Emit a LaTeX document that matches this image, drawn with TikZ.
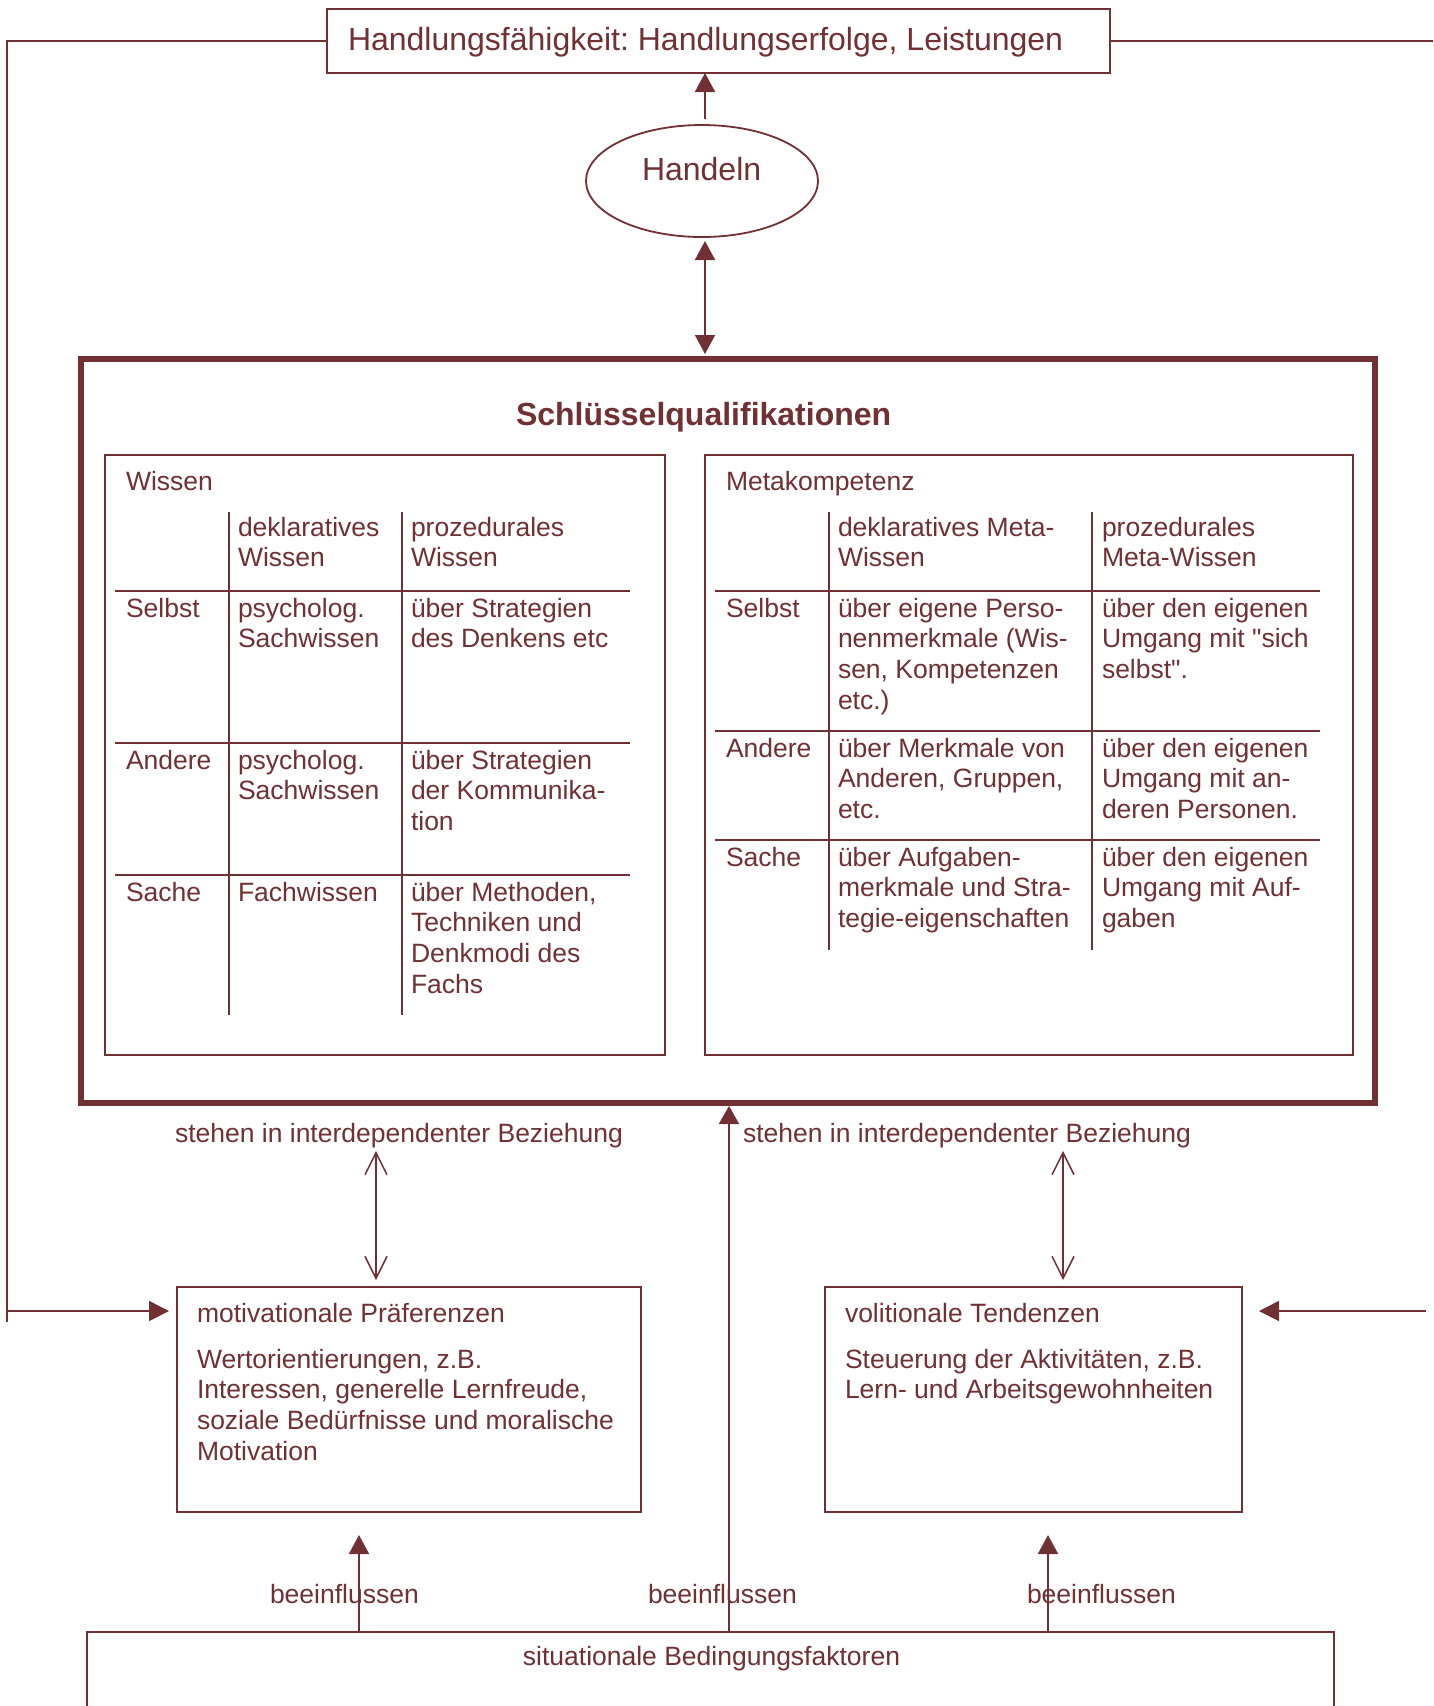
\documentclass[tikz,border=0pt]{standalone}
\usepackage{fontspec}
\setmainfont{Liberation Sans}[Ligatures=TeXOff]
\usetikzlibrary{arrows.meta,shapes.geometric}
\definecolor{wine}{RGB}{112,48,52}
\newcommand{\ml}[1]{\begin{tabular}[t]{@{}l@{}}#1\end{tabular}}
\newcommand{\bodyfont}{\fontsize{26.5}{30.8}\selectfont}
\newcommand{\bigfont}{\fontsize{32}{37}\selectfont}
\frenchspacing
\tikzset{
  every node/.style={text=wine, inner sep=0pt, outer sep=0pt, font=\bodyfont},
  cell/.style={anchor=base west},
  frame/.style 2 args={draw=wine, line width=2pt, minimum width=#1, minimum height=#2, anchor=north west},
  rule/.style={draw=wine, line width=2pt},
  conn/.style={draw=wine, line width=1.8pt},
  filltip/.style={-{Triangle[length=19pt,width=20pt]}},
  bothtip/.style={{Triangle[length=19pt,width=20pt]}-{Triangle[length=19pt,width=20pt]}},
  opentip/.style={{Straight Barb[length=22pt,width=22pt]}-{Straight Barb[length=22pt,width=22pt]}},
}
\begin{document}
\begin{tikzpicture}[x=1pt,y=-1pt]
\useasboundingbox[fill=white] (0,0) rectangle (1433,1706);
\clip (0,0) rectangle (1433,1706);

% main boxes
\node[frame={783}{64}] (top) at (327,9) {};
\node[cell, font=\bigfont] (toptxt) at (348,50) {Handlungsfähigkeit: Handlungserfolge, Leistungen};
\node[draw=wine, line width=1.8pt, ellipse, minimum width=232, minimum height=112] (handeln) at (702,181) {};
\node[cell, font=\bigfont] (handelntxt) at (642,180) {Handeln};
\node[frame={1294}{744}, line width=6pt] (big) at (81,359) {};
\node[cell, font=\bigfont\bfseries] (title) at (516,425) {Schlüsselqualifikationen};
\node[frame={560}{600}] (wiss) at (105,455) {};
\node[frame={648}{600}] (meta) at (705,455) {};
\node[frame={464}{225}] (motiv) at (177,1287) {};
\node[frame={417}{225}] (volit) at (825,1287) {};
\node[frame={1247}{120}] (situ) at (87,1632) {};
\node[anchor=base] (situtxt) at (711.5,1665) {situationale Bedingungsfaktoren};

% Wissen table
\draw[rule] (229,512) -- (229,1015);
\draw[rule] (402,512) -- (402,1015);
\draw[rule] (115,591) -- (630,591);
\draw[rule] (115,743) -- (630,743);
\draw[rule] (115,875) -- (630,875);
\node[cell] (wl) at (126,490) {Wissen};
\node[cell] (wh2) at (238,536) {\ml{deklaratives\\Wissen}};
\node[cell] (wh3) at (411,536) {\ml{prozedurales\\Wissen}};
\node[cell] (ws1) at (126,617) {Selbst};
\node[cell] (ws2) at (238,617) {\ml{psycholog.\\Sachwissen}};
\node[cell] (ws3) at (411,617) {\ml{über Strategien\\des Denkens etc}};
\node[cell] (wa1) at (126,769) {Andere};
\node[cell] (wa2) at (238,769) {\ml{psycholog.\\Sachwissen}};
\node[cell] (wa3) at (411,769) {\ml{über Strategien\\der Kommunika-\\tion}};
\node[cell] (wc1) at (126,901) {Sache};
\node[cell] (wc2) at (238,901) {Fachwissen};
\node[cell] (wc3) at (411,901) {\ml{über Methoden,\\Techniken und\\Denkmodi des\\Fachs}};

% Metakompetenz table
\draw[rule] (829,512) -- (829,950);
\draw[rule] (1092,512) -- (1092,950);
\draw[rule] (715,591) -- (1320,591);
\draw[rule] (715,731) -- (1320,731);
\draw[rule] (715,840) -- (1320,840);
\node[cell] (mlab) at (726,490) {Metakompetenz};
\node[cell] (mh2) at (838,536) {\ml{deklaratives Meta-\\Wissen}};
\node[cell] (mh3) at (1102,536) {\ml{prozedurales\\Meta-Wissen}};
\node[cell] (ms1) at (726,617) {Selbst};
\node[cell] (ms2) at (838,617) {\ml{über eigene Perso-\\nenmerkmale (Wis-\\sen, Kompetenzen\\etc.)}};
\node[cell] (ms3) at (1102,617) {\ml{über den eigenen\\Umgang mit "sich\\selbst".}};
\node[cell] (ma1) at (726,757) {Andere};
\node[cell] (ma2) at (838,757) {\ml{über Merkmale von\\Anderen, Gruppen,\\etc.}};
\node[cell] (ma3) at (1102,757) {\ml{über den eigenen\\Umgang mit an-\\deren Personen.}};
\node[cell] (mc1) at (726,866) {Sache};
\node[cell] (mc2) at (838,866) {\ml{über Aufgaben-\\merkmale und Stra-\\tegie-eigenschaften}};
\node[cell] (mc3) at (1102,866) {\ml{über den eigenen\\Umgang mit Auf-\\gaben}};

% lower boxes text
\node[cell] (mt) at (197,1322) {motivationale Präferenzen};
\node[cell] (mb) at (197,1368) {\ml{Wertorientierungen, z.B.\\Interessen, generelle Lernfreude,\\soziale Bedürfnisse und moralische\\Motivation}};
\node[cell] (vt) at (845,1322) {volitionale Tendenzen};
\node[cell] (vb) at (845,1368) {\ml{Steuerung der Aktivitäten, z.B.\\Lern- und Arbeitsgewohnheiten}};

% labels
\node[cell] (st1) at (175,1142) {stehen in interdependenter Beziehung};
\node[cell] (st2) at (743,1142) {stehen in interdependenter Beziehung};
\node[cell] (be1) at (270,1603) {beeinflussen};
\node[cell] (be2) at (648,1603) {beeinflussen};
\node[cell] (be3) at (1027,1603) {beeinflussen};

% connectors
\coordinate (ax) at (705,181);
\draw[conn, filltip] (ax |- 0,119) coordinate (aup) -- (aup |- top.south);
\draw[conn, bothtip, shorten <=4pt, shorten >=5pt] (ax |- handeln.south) -- (ax |- big.north);
\coordinate (corL) at (7,41);
\coordinate (endL) at (7,1322);
\coordinate (lf) at (7,1311);
\coordinate (corR) at (1440,41);
\coordinate (rf) at (1426,1311);
\draw[conn] (top.west) -- (corL) -- (endL);
\draw[conn] (top.east) -- (corR);
\draw[conn, -{Triangle[length=20pt,width=20pt]}, shorten >=8pt] (lf) -- (motiv.west |- lf);
\draw[conn, -{Triangle[length=20pt,width=20pt]}, shorten >=17pt] (rf) -- (volit.east |- rf);
\coordinate (o1) at (376,1151);
\coordinate (o2) at (1063,1151);
\draw[conn, line width=1.5pt, opentip, shorten >=7pt] (o1) -- (o1 |- motiv.north);
\draw[conn, line width=1.5pt, opentip, shorten >=7pt] (o2) -- (o2 |- volit.north);
\coordinate (b1) at (359,1535);
\coordinate (b2) at (1048,1535);
\coordinate (bc) at (729,1106);
\draw[conn, filltip] (situ.north -| b1) -- (b1);
\draw[conn, filltip] (situ.north -| b2) -- (b2);
\draw[conn, -{Triangle[length=18pt,width=20pt]}] (situ.north -| bc) -- (bc);
\end{tikzpicture}
\end{document}
